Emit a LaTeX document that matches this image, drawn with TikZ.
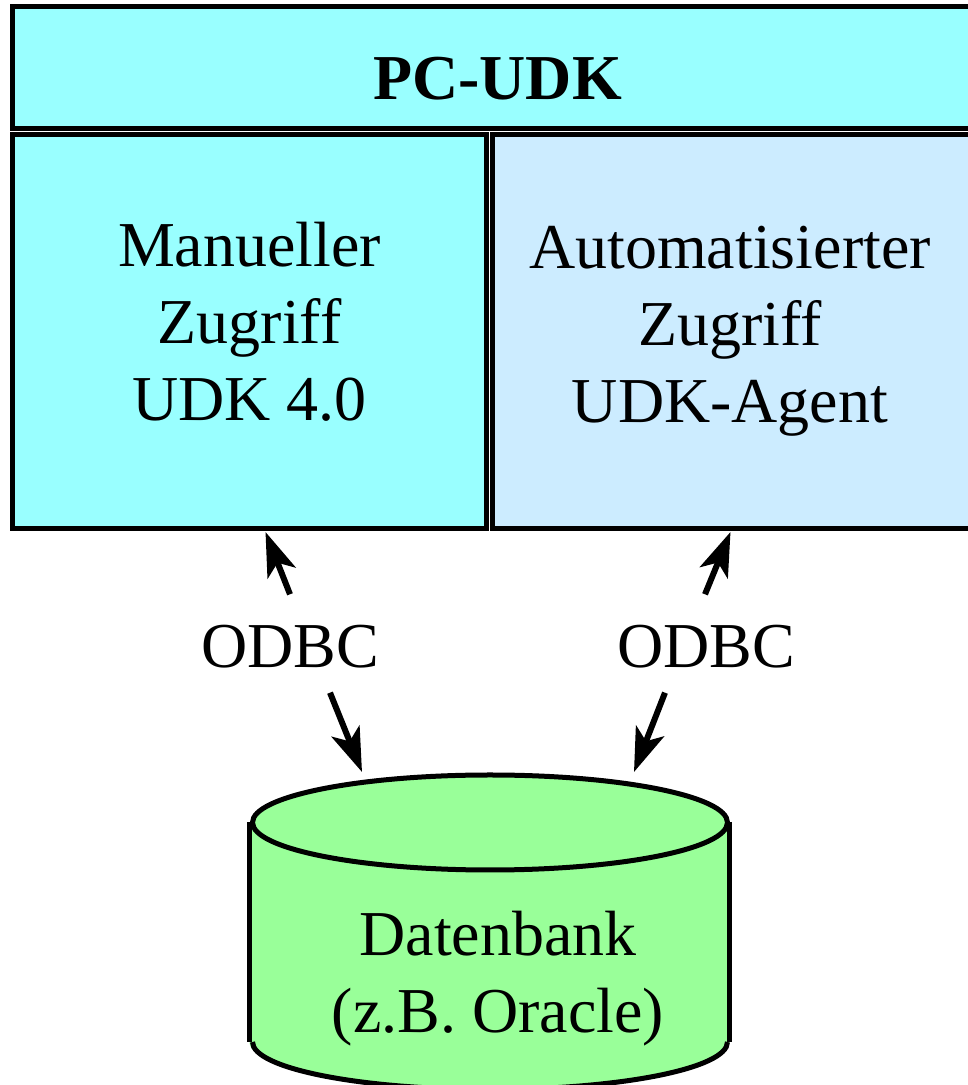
\documentclass[tikz,border=0pt]{standalone}
\usepackage{fontspec}
\setmainfont{Liberation Serif}
\usetikzlibrary{arrows.meta}
\definecolor{udkcyan}{HTML}{99FFFF}
\definecolor{udkblue}{HTML}{CCECFF}
\definecolor{udkgreen}{HTML}{99FF99}
\tikzset{
  boxnode/.style={draw, line width=0.05cm},
  textnode/.style={align=center, inner sep=0pt, font=\fontsize{18.2}{21.9}\selectfont},
  labelnode/.style={textnode, minimum height=0.97cm},
  odbcarrow/.style={line width=0.06cm, -{Stealth[length=0.44cm, width=0.30cm, inset=0.11cm]}}
}
\begin{document}
\begin{tikzpicture}
  \useasboundingbox (0,0) rectangle (9.68,10.85);
  % top bar and the two access boxes
  \node[boxnode, fill=udkcyan, minimum width=9.80cm, minimum height=1.22cm] (pcudk) at (5.025,10.175) {};
  \node[boxnode, fill=udkcyan, minimum width=4.74cm, minimum height=3.94cm] (manuell) at (2.495,7.535) {};
  \node[boxnode, fill=udkblue, minimum width=4.90cm, minimum height=3.94cm] (auto) at (7.375,7.535) {};
  \node[textnode] (pcudktext) at (4.975,10.06) {\textbf{PC-UDK}};
  \node[textnode] (manuelltext) at (2.495,7.635) {Manueller\\Zugriff\\UDK 4.0};
  \node[textnode] (autotext) at (7.30,7.535) {Automatisierter\\Zugriff\\UDK-Agent};
  % database
  \fill[udkgreen] (2.495,2.63) -- (2.495,0.43) arc[start angle=180, end angle=360, x radius=2.40cm, y radius=0.475cm] -- (7.295,2.63) -- cycle;
  \draw[line width=0.05cm] (2.495,2.63) -- (2.495,0.43);
  \draw[line width=0.05cm] (7.295,2.63) -- (7.295,0.43);
  \draw[line width=0.05cm] (2.525,0.43) arc[start angle=180, end angle=360, x radius=2.375cm, y radius=0.475cm];
  \draw[line width=0.05cm, fill=udkgreen] (4.90,2.625) ellipse (2.375cm and 0.475cm);
  \coordinate (dbtop) at (4.90,3.13);
  \node[textnode] (datenbank) at (4.98,1.06) {Datenbank\\(z.B. Oracle)};
  % labels and arrows
  \node[labelnode] (odbcl) at (2.90,4.385) {ODBC};
  \node[labelnode] (odbcr) at (7.06,4.385) {ODBC};
  \draw[odbcarrow] ([yshift=0.03cm]odbcl.north) -- ([xshift=0.16cm,yshift=-0.01cm]manuell.south);
  \draw[odbcarrow] ([xshift=-0.01cm,yshift=0.03cm]odbcr.north) -- ([xshift=-0.07cm,yshift=-0.01cm]auto.south);
  \draw[odbcarrow] ([xshift=0.40cm,yshift=0.03cm]odbcl.south) -- ([xshift=-1.28cm]dbtop);
  \draw[odbcarrow] ([xshift=-0.41cm,yshift=0.03cm]odbcr.south) -- ([xshift=1.44cm]dbtop);
\end{tikzpicture}
\end{document}
